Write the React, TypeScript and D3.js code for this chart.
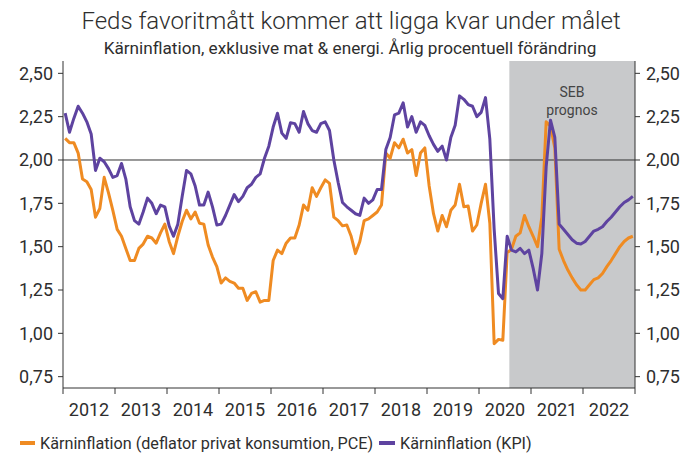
import React from "react";
import * as d3 from "d3";

// Monthly values Jan 2012 – Dec 2022 (forecast from Aug 2020)
const startYear = 2012;
const pce: number[] = [
  2.125, 2.10, 2.10, 2.04, 1.89, 1.875, 1.83, 1.67, 1.72, 1.90, 1.81, 1.71,
  1.60, 1.56, 1.49, 1.42, 1.42, 1.49, 1.515, 1.56, 1.55, 1.52, 1.58, 1.63,
  1.53, 1.46, 1.56, 1.645, 1.71, 1.66, 1.70, 1.635, 1.63, 1.51, 1.44, 1.385,
  1.29, 1.32, 1.30, 1.29, 1.26, 1.26, 1.19, 1.23, 1.24, 1.18, 1.19, 1.19,
  1.42, 1.48, 1.46, 1.52, 1.55, 1.55, 1.625, 1.74, 1.71, 1.84, 1.79, 1.84,
  1.885, 1.865, 1.67, 1.65, 1.62, 1.625, 1.56, 1.46, 1.53, 1.65, 1.66, 1.68,
  1.70, 1.74, 2.04, 2.01, 2.10, 2.07, 2.12, 2.04, 2.06, 1.91, 2.04, 2.07,
  1.85, 1.69, 1.59, 1.68, 1.615, 1.71, 1.74, 1.86, 1.73, 1.735, 1.59, 1.625,
  1.75, 1.86, 1.635, 0.94, 0.965, 0.96, 1.465, 1.485, 1.56, 1.58, 1.68, 1.615,
  1.56, 1.50, 1.67, 2.22, 2.195, 2.07, 1.485, 1.42, 1.365, 1.32, 1.28, 1.25,
  1.25, 1.28, 1.31, 1.32, 1.345, 1.385, 1.42, 1.46, 1.50, 1.53, 1.55, 1.56,
];
const kpi: number[] = [
  2.27, 2.16, 2.24, 2.31, 2.27, 2.22, 2.15, 1.94, 2.01, 1.99, 1.95, 1.90,
  1.91, 1.98, 1.89, 1.73, 1.65, 1.63, 1.70, 1.78, 1.75, 1.69, 1.74, 1.73,
  1.62, 1.56, 1.63, 1.79, 1.94, 1.92, 1.85, 1.74, 1.74, 1.815, 1.73, 1.625,
  1.63, 1.68, 1.74, 1.80, 1.76, 1.79, 1.84, 1.86, 1.90, 1.92, 2.01, 2.08,
  2.19, 2.27, 2.155, 2.125, 2.215, 2.21, 2.16, 2.28, 2.21, 2.17, 2.16, 2.21,
  2.22, 2.17, 2.00, 1.87, 1.755, 1.73, 1.71, 1.69, 1.68, 1.78, 1.75, 1.77,
  1.83, 1.83, 2.06, 2.13, 2.26, 2.27, 2.33, 2.19, 2.25, 2.16, 2.22, 2.20,
  2.14, 2.09, 2.05, 2.08, 2.00, 2.13, 2.20, 2.37, 2.35, 2.32, 2.31, 2.25,
  2.275, 2.36, 2.12, 1.60, 1.23, 1.20, 1.56, 1.48, 1.47, 1.49, 1.46, 1.48,
  1.375, 1.25, 1.46, 1.96, 2.23, 2.13, 1.63, 1.60, 1.57, 1.54, 1.52, 1.515,
  1.53, 1.56, 1.59, 1.60, 1.615, 1.645, 1.67, 1.70, 1.73, 1.755, 1.77, 1.79,
];
const years: number[] = [2012, 2013, 2014, 2015, 2016, 2017, 2018, 2019, 2020, 2021, 2022];
const yTicks: number[] = [0.75, 1.0, 1.25, 1.5, 1.75, 2.0, 2.25, 2.5];
const forecastStart = 2020 + 7 / 12;
const refLevel = 2.0;
const title = "Feds favoritmått kommer att ligga kvar under målet";
const subtitle = "Kärninflation, exklusive mat & energi. Årlig procentuell förändring";
const forecastLabel = ["SEB", "prognos"];
const seriesNames = ["Kärninflation (deflator privat konsumtion, PCE)", "Kärninflation (KPI)"];

const W = 689;
const H = 457;
const left = 63;
const right = 635;
const top = 61;
const bottom = 388;
const ORANGE = "#EF8B22";
const PURPLE = "#5E43A0";
const GRID = "#333";
const TEXT = "#2e2e2e";
const FONT = "Roboto, 'Noto Sans', sans-serif";

export default function App() {
  const x = d3.scaleLinear().domain([2012, 2023]).range([left, right]);
  const y = d3.scaleLinear().domain([0.75, 2.5]).range([376.67, 73.33]);
  const tOf = (i: number) => startYear + (i + 0.5) / 12;
  const line = d3
    .line<number>()
    .x((_, i) => x(tOf(i)))
    .y((d) => y(d))
    .curve(d3.curveLinear);

  const fmt = (v: number) => v.toFixed(2).replace(".", ",");
  const tickYears = d3.range(2012, 2024);

  return (
    <svg width={W} height={H} style={{ display: "block", position: "absolute", left: 0, top: 0 }} fontFamily={FONT}>
      <rect x={0} y={0} width={W} height={H} fill="#fff" />
      <text x={351} y={29} textAnchor="middle" fontSize={24} fontWeight={300} fill={TEXT}>{title}</text>
      <text x={350} y={54} textAnchor="middle" fontSize={17.2} fill={TEXT}>{subtitle}</text>

      <rect x={x(forecastStart)} y={top} width={right - x(forecastStart)} height={bottom - top} fill="#C8C9CB" />
      {forecastLabel.map((s, k) => (
        <text key={s} x={572} y={97 + k * 18} textAnchor="middle" fontSize={14} fill="#444">{s}</text>
      ))}

      <line x1={left} x2={right} y1={y(refLevel)} y2={y(refLevel)} stroke={GRID} strokeWidth={1} />

      <path d={line(pce) ?? ""} fill="none" stroke={ORANGE} strokeWidth={3} strokeLinejoin="round" />
      <path d={line(kpi) ?? ""} fill="none" stroke={PURPLE} strokeWidth={3} strokeLinejoin="round" />

      {/* axes */}
      <line x1={left} x2={left} y1={top} y2={bottom} stroke={GRID} strokeWidth={1} />
      <line x1={right} x2={right} y1={top} y2={bottom} stroke={GRID} strokeWidth={1} />
      <line x1={left} x2={right} y1={bottom} y2={bottom} stroke={GRID} strokeWidth={1} />
      {yTicks.map((v) => (
        <g key={v}>
          <line x1={left - 5} x2={left} y1={y(v)} y2={y(v)} stroke={GRID} />
          <line x1={right} x2={right + 5} y1={y(v)} y2={y(v)} stroke={GRID} />
          <text x={53} y={y(v)} dy="0.35em" textAnchor="end" fontSize={18} fill={TEXT}>{fmt(v)}</text>
          <text x={646} y={y(v)} dy="0.35em" textAnchor="start" fontSize={18} fill={TEXT}>{fmt(v)}</text>
        </g>
      ))}
      {tickYears.map((yr) => (
        <line key={yr} x1={x(yr)} x2={x(yr)} y1={bottom} y2={bottom + 6} stroke={GRID} />
      ))}
      {years.map((yr) => (
        <text key={yr} x={x(yr + 0.5)} y={416} textAnchor="middle" fontSize={18} fill={TEXT}>{yr}</text>
      ))}

      {/* legend */}
      <rect x={20} y={441} width={15} height={4} fill={ORANGE} />
      <text x={40} y={449} fontSize={16.2} fill={TEXT}>{seriesNames[0]}</text>
      <rect x={379} y={441} width={16} height={4} fill={PURPLE} />
      <text x={400} y={449} fontSize={16.2} fill={TEXT}>{seriesNames[1]}</text>
    </svg>
  );
}
